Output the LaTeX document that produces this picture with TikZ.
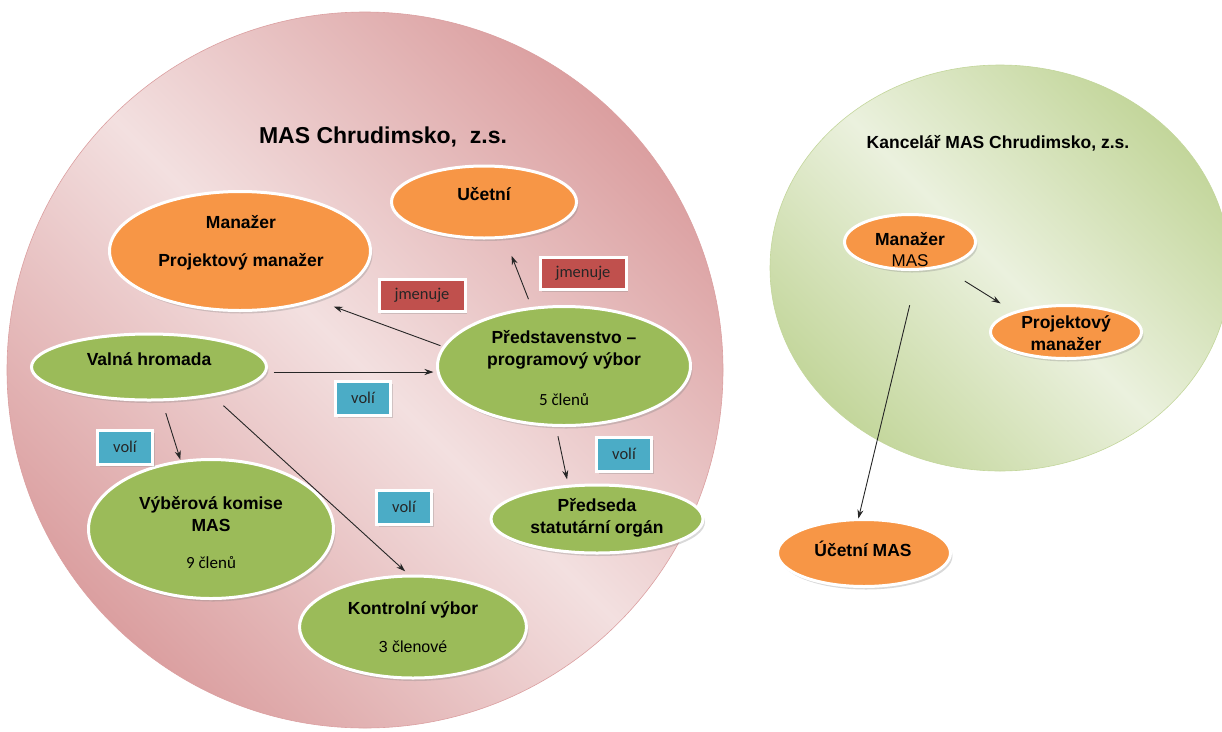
\documentclass[tikz,border=0pt]{standalone}
\usepackage{fontspec}
\setmainfont{Liberation Sans}
\newfontfamily\calibri{Carlito}
\usetikzlibrary{shapes.geometric,shadows,arrows.meta}
\definecolor{orng}{HTML}{F79646}
\definecolor{grn}{HTML}{9BBB59}
\definecolor{redbox}{HTML}{C0504D}
\definecolor{bluebox}{HTML}{4BACC6}
\definecolor{pinkD}{HTML}{DB9FA0}
\definecolor{pinkL}{HTML}{F3E0E0}
\definecolor{grnD}{HTML}{C3D69B}
\definecolor{grnL}{HTML}{EBF1DE}
\begin{document}
\begin{tikzpicture}[x=1pt,y=-1pt,
  oval/.style={ellipse, draw=white, line width=3pt, inner sep=0pt, outer sep=0pt,
    drop shadow={opacity=0.3, shadow xshift=2pt, shadow yshift=-3pt}},
  ooval/.style={oval, fill=orng},
  goval/.style={oval, fill=grn},
  tagbox/.style={rectangle, draw=white, line width=3pt, inner sep=0pt, outer sep=0pt,
    minimum height=32pt, text=black!85, font=\calibri\fontsize{16.5}{18}\selectfont,
    drop shadow={opacity=0.3, shadow xshift=2pt, shadow yshift=-3pt}},
  jmbox/.style={tagbox, fill=redbox, minimum width=86pt},
  vobox/.style={tagbox, fill=bluebox, minimum width=55pt, minimum height=34pt},
  bt/.style={font=\bfseries\fontsize{17.5}{22.5}\selectfont, align=center, inner sep=0pt},
  rt/.style={font=\fontsize{16}{20}\selectfont, align=center, inner sep=0pt},
  ct/.style={font=\calibri\fontsize{17}{20}\selectfont, inner sep=0pt},
  arr/.style={-{Stealth[length=9pt,width=6pt]}, line width=0.9pt, draw=black!85},
]
\useasboundingbox (0,0) rectangle (1222,731);
% background circles
\shade[draw=pinkD, line width=0.6pt, left color=pinkD, right color=pinkD, middle color=pinkL, shading angle=135]
  (365,370) ellipse [x radius=358pt, y radius=358pt];
\shade[draw=grnD, line width=0.6pt, left color=grnD, right color=grnD, middle color=grnL, shading angle=135]
  (1000,268) ellipse [x radius=230pt, y radius=203pt];

% titles
\node[font=\bfseries\fontsize{23}{26}\selectfont, inner sep=0pt] (title) at (383,137) {MAS Chrudimsko, \ z.s.};
\node[font=\bfseries\fontsize{17.5}{20}\selectfont, inner sep=0pt] (title2) at (998,143) {Kancelář MAS Chrudimsko, z.s.};

% left ellipses
\node[ooval, minimum width=185pt, minimum height=72pt] (ucetni) at (484,202) {};
\node[bt] (tucetni) at (484,194) {Učetní};
\node[ooval, minimum width=261pt, minimum height=119pt] (manazer) at (240,251) {};
\node[bt] (tman1) at (241,222) {Manažer};
\node[bt] (tman2) at (241,262) {Projektový manažer};
\node[goval, minimum width=253pt, minimum height=119pt] (pred) at (564,366) {};
\node[bt] (tpred) at (564,350) {Představenstvo –\\programový výbor};
\node[ct] (tpredn) at (564,400) {5 členů};
\node[goval, minimum width=235pt, minimum height=66pt] (valna) at (149,367) {};
\node[bt] (tvalna) at (149,359) {Valná hromada};
\node[goval, minimum width=245pt, minimum height=139pt] (vyber) at (211,529) {};
\node[bt] (tvyber) at (211,514) {Výběrová komise\\MAS};
\node[ct] (tvybern) at (211,563) {9 členů};
\node[goval, minimum width=212pt, minimum height=68pt] (predseda) at (597,519) {};
\node[bt] (tpredseda) at (597,518) {Předseda\\statutární orgán};
\node[goval, minimum width=227pt, minimum height=102pt] (kontrol) at (413,627) {};
\node[bt] (tkontrol) at (413,610) {Kontrolní výbor};
\node[rt] (tkontroln) at (413,647) {3 členové};

% tags
\node[jmbox] (jm1) at (422,295) {jmenuje};
\node[jmbox] (jm2) at (583,273) {jmenuje};
\node[vobox] (vo1) at (363,398) {volí};
\node[vobox] (vo2) at (125,447) {volí};
\node[vobox] (vo3) at (624,454) {volí};
\node[vobox] (vo4) at (404,507) {volí};

% right ellipses
\node[ooval, minimum width=131pt, minimum height=55pt] (manmas) at (910,242) {};
\node[bt] (tmanmas1) at (910,239) {Manažer};
\node[rt, font=\fontsize{17}{20}\selectfont] (tmanmas2) at (910,261) {MAS};
\node[ooval, minimum width=151pt, minimum height=53pt] (projman) at (1066,332) {};
\node[bt] (tprojman) at (1066,333) {Projektový\\manažer};
\node[ooval, minimum width=173pt, minimum height=67pt] (ucetmas) at (864,553) {};
\node[bt] (tucetmas) at (863,549) {Účetní MAS};

% arrows
\draw[arr, shorten <=7pt, shorten >=4pt] ([yshift=-5pt]valna.east) -- ([yshift=-6pt]pred.west);
\draw[arr, shorten <=4pt, shorten >=20pt] (pred.171) -- (manazer.-33);
\draw[arr, shorten <=10pt, shorten >=20pt] (pred.119) -- (ucetni.-60);
\draw[arr, shorten <=14pt, shorten >=2pt] (valna.-69) -- (vyber.114);
\draw[arr, shorten <=16pt, shorten >=7pt] (valna.-24) -- (kontrol.93);
\draw[arr, shorten <=11pt, shorten >=7pt] (pred.-98) -- (predseda.131);
\draw[arr, shorten <=28pt, shorten >=17pt] (manmas.-38) -- (projman.159);
\draw[arr, shorten <=37pt, shorten >=1pt] (manmas.-73) -- (ucetmas.100);
\end{tikzpicture}
\end{document}
